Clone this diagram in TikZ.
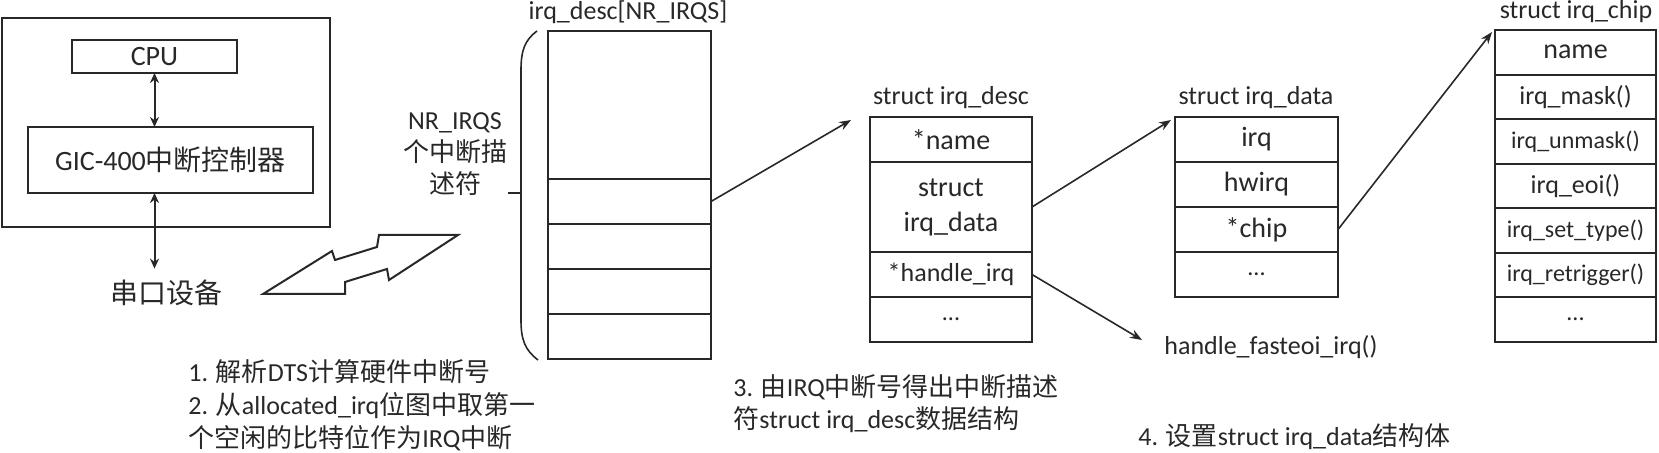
\documentclass[tikz,border=0pt]{standalone}
\usepackage{fontspec}
\setmainfont{Carlito}
\newfontfamily\cjk{Noto Sans CJK SC}
\usetikzlibrary{arrows.meta}
\definecolor{ink}{RGB}{40,40,40}
\newcommand{\zh}[1]{{\cjk #1}}

\begin{document}
\begin{tikzpicture}[x=0.5pt,y=0.5pt,yscale=-1,xscale=1,
  every node/.style={text=ink},
  slot/.style={draw=ink, line width=1pt, inner sep=0pt, outer sep=0pt, align=center, font=\fontsize{14}{17.5}\selectfont},
  lbl/.style={inner sep=0pt, font=\fontsize{13}{16}\selectfont},
  tip/.style={draw=ink, line width=0.8pt, -{Stealth[length=6pt,width=4.5pt]}},
  dbl/.style={draw=ink, line width=1pt, {Stealth[length=5pt,width=4.5pt]}-{Stealth[length=5pt,width=4.5pt]}}]
\useasboundingbox (0,0) rectangle (1659,453);

%Shape: Rectangle (board)
\draw [draw=ink, line width=1pt] (2,18) rectangle (330,227) ;
% Text Node
\node [slot, minimum width=82.5pt, minimum height=16.5pt] (cpu) at (154.5,56.5) {CPU};
% Text Node
\node [slot, minimum width=142.5pt, minimum height=33pt] (gic) at (170.5,160) {GIC-400\zh{中断控制器}};
% Text Node
\node [inner sep=5.5pt, font=\fontsize{14}{17}\selectfont] (dev) at (166,293) {\zh{串口设备}};
%Straight Lines
\draw [dbl] (cpu.south) -- (cpu.south |- gic.north) ;
\draw [dbl] (cpu.south |- gic.south) -- (cpu.south |- dev.north) ;

%Shape: Bolt
\draw [draw=ink, line width=1pt, line join=miter] (263,294) -- (332,251) -- (335,260) -- (377,247) -- (379,235) -- (458,235) -- (389,280) -- (387,269) -- (345,282) -- (345,294) -- cycle ;

% Text Node
\node [lbl, align=center] (nrtxt) at (455,154) {NR\_IRQS\\\zh{个中断描}\\\zh{述符}};
%Shape: Brace
\draw [draw=ink, line width=0.8pt] (537,31) .. controls (525,40) and (521,50) .. (521,70) -- (521,320) .. controls (521,340) and (525,350) .. (538,360) ;
\draw [draw=ink, line width=0.8pt] (508,193) -- (521,193) ;

% irq_desc[NR_IRQS]
\node [lbl] (arrlbl) at (628,12) {irq\_desc[NR\_IRQS]};
\node [slot, minimum width=81.5pt, minimum height=74pt] (arr1) at (629.5,105) {};
\node [slot, minimum width=81.5pt, minimum height=22.5pt] (arr2) at (629.5,201.5) {};
\node [slot, minimum width=81.5pt, minimum height=22.5pt] (arr3) at (629.5,246.5) {};
\node [slot, minimum width=81.5pt, minimum height=22.5pt] (arr4) at (629.5,291.5) {};
\node [slot, minimum width=81.5pt, minimum height=22.5pt] (arr5) at (629.5,336.5) {};

% struct irq_desc
\node [lbl] (desclbl) at (951,98) {struct irq\_desc};
\node [slot, minimum width=81pt, minimum height=22.5pt] (desc1) at (951,139.5) {*name};
\node [slot, minimum width=81pt, minimum height=45pt] (desc2) at (951,207) {struct\\irq\_data};
\node [slot, minimum width=81pt, minimum height=22.5pt, font=\fontsize{13}{16}\selectfont] (desc3) at (951,274.5) {*handle\_irq};
\node [slot, minimum width=81pt, minimum height=22.5pt, font=\fontsize{12}{14}\selectfont] (desc4) at (951,319.5) {...};

% struct irq_data
\node [lbl] (datalbl) at (1256,98) {struct irq\_data};
\node [slot, minimum width=81.5pt, minimum height=22.5pt] (data1) at (1256.5,139.5) {irq};
\node [slot, minimum width=81.5pt, minimum height=22.5pt] (data2) at (1256.5,184.5) {hwirq};
\node [slot, minimum width=81.5pt, minimum height=22.5pt] (data3) at (1256.5,229.5) {*chip};
\node [slot, minimum width=81.5pt, minimum height=22.5pt, font=\fontsize{12}{14}\selectfont] (data4) at (1256.5,274.5) {...};

% struct irq_chip
\node [lbl] (chiplbl) at (1576,12) {struct irq\_chip};
\node [slot, minimum width=80.5pt, minimum height=22.3pt] (chip1) at (1575.5,52.3) {name};
\node [slot, minimum width=80.5pt, minimum height=22.3pt, font=\fontsize{13}{16}\selectfont] (chip2) at (1575.5,96.9) {irq\_mask()};
\node [slot, minimum width=80.5pt, minimum height=22.3pt, font=\fontsize{12}{14}\selectfont] (chip3) at (1575.5,141.4) {irq\_unmask()};
\node [slot, minimum width=80.5pt, minimum height=22.3pt, font=\fontsize{13}{16}\selectfont] (chip4) at (1575.5,186) {irq\_eoi()};
\node [slot, minimum width=80.5pt, minimum height=22.3pt, font=\fontsize{12}{14}\selectfont] (chip5) at (1575.5,230.6) {irq\_set\_type()};
\node [slot, minimum width=80.5pt, minimum height=22.3pt, font=\fontsize{12}{14}\selectfont] (chip6) at (1575.5,275.1) {irq\_retrigger()};
\node [slot, minimum width=80.5pt, minimum height=22.3pt, font=\fontsize{12}{14}\selectfont] (chip7) at (1575.5,319.7) {...};

% Text Node
\node [lbl, anchor=west] (fasteoi) at (1164,347) {handle\_fasteoi\_irq()};

%Straight Lines
\coordinate (descin) at (851,120);
\coordinate (datain) at (1171,120);
\coordinate (fastin) at (1142,340);
\coordinate (chipin) at (1492,32);
\draw [tip] (arr2.east) -- (descin) ;
\draw [tip] (desc2.east) -- (datain) ;
\draw [tip] (desc3.east) -- (fastin) ;
\draw [tip] (data3.east) -- (chipin) ;

% Text Node
\node [lbl, align=left, anchor=west, font=\fontsize{13}{16.5}\selectfont] (step12) at (188,405) {1. \zh{解析}DTS\zh{计算硬件中断号}\\2. \zh{从}allocated\_irq\zh{位图中取第一}\\\zh{个空闲的比特位作为}IRQ\zh{中断}};
% Text Node
\node [lbl, align=left, anchor=west] (step3) at (733,404) {3. \zh{由}IRQ\zh{中断号得出中断描述}\\\zh{符}struct irq\_desc\zh{数据结构}};
% Text Node
\node [lbl, anchor=west] (step4) at (1138,437) {4. \zh{设置}struct irq\_data\zh{结构体}};
\end{tikzpicture}
\end{document}
